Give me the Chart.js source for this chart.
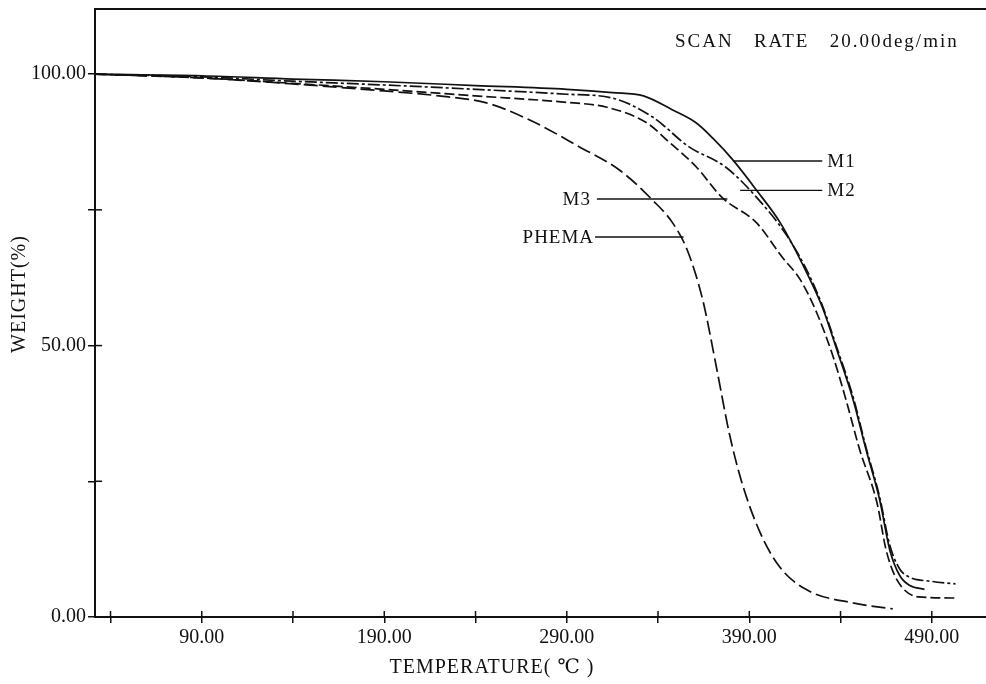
<!DOCTYPE html>
<html>
<head>
<meta charset="utf-8">
<title>TGA curves</title>
<script src="https://cdn.jsdelivr.net/npm/chart.js@4.4.1/dist/chart.umd.min.js"></script>
<style>
  body { margin: 0; background: #fff; }
  #wrap { width: 986px; height: 684px; position: relative; }
</style>
</head>
<body>
<div id="wrap"><canvas id="graph"></canvas></div>
<script>
// temperature (C) / weight (%)
const m1Temp = [31.5, 90, 140, 190, 240, 290, 315, 332, 348, 361, 370, 381, 394, 407, 421.5, 430, 438, 447, 454, 461.5, 467, 472.5, 478, 486];
const m1Weight = [100, 99.7, 99.1, 98.6, 97.9, 97.2, 96.6, 96.0, 93.4, 91.0, 88.2, 84.2, 78.6, 72.6, 63.4, 57.1, 49.2, 39.9, 30.8, 21.5, 12.3, 7.6, 5.8, 5.1];

const m2Temp = [31.5, 90, 140, 190, 240, 290, 315, 337, 357, 377, 394, 410.5, 421.5, 430, 438, 447, 454, 461.5, 467, 472.5, 478, 489, 503];
const m2Weight = [100, 99.5, 98.7, 98.0, 97.2, 96.3, 95.6, 92.1, 86.6, 82.9, 77.3, 70.3, 63.9, 57.4, 49.6, 40.4, 31.2, 22.0, 13.2, 8.8, 7.3, 6.6, 6.1];

const m3Temp = [31.5, 90, 140, 190, 240, 290, 312, 334, 345, 361, 375, 394, 408, 418, 427, 436, 443, 450.5, 460, 465, 471, 483, 503];
const m3Weight = [100, 99.3, 98.3, 97.2, 96.0, 94.8, 93.9, 91.0, 87.8, 82.9, 77.3, 72.6, 66.3, 62.1, 56.0, 47.9, 40.0, 30.8, 21.0, 12.3, 6.8, 3.7, 3.5];

const phemaTemp = [31.5, 90, 140, 190, 220, 246, 270, 297, 319, 337, 348, 356, 364.5, 372, 379, 386, 396, 406.7, 421.5, 446.7, 468.6];
const phemaWeight = [100, 99.3, 98.2, 96.9, 96.0, 94.7, 91.5, 86.6, 82.3, 76.8, 72.6, 67.6, 58.4, 46.0, 33.9, 24.7, 15.5, 9.2, 5.0, 2.6, 1.5];

// axis ticks
const xTicks = [40, 90, 140, 190, 240, 290, 340, 390, 440, 490];
const xLabelled = [90, 190, 290, 390, 490];
const yTicks = [0, 25, 50, 75, 100];
const yLabelled = [0, 50, 100];

// curve labels: name, leader line from/to temperature, weight level
const tagNames = ['M1', 'M2', 'M3', 'PHEMA'];
const tagFrom = [381, 385, 306.5, 305.5];
const tagTo = [430, 430, 378, 354];
const tagWeight = [84.0, 78.6, 77.0, 70.0];
const tagSide = ['right', 'right', 'left', 'left'];

const ink = '#111';
const serif = '"Liberation Serif", "DejaVu Serif", serif';

function toPoints(xs, ys) {
    return xs.map((x, i) => ({ x: x, y: ys[i] }));
}

function series(label, xs, ys, dash) {
    return {
        label: label,
        data: toPoints(xs, ys),
        borderColor: ink,
        borderWidth: 1.7,
        borderDash: dash,
        pointRadius: 0,
        fill: false,
        cubicInterpolationMode: 'monotone'
    };
}

// draws the frame, inner tick stubs, curve labels and free texts
const decorations = {
    id: 'decorations',
    afterDraw(chart) {
        const ctx = chart.ctx;
        const area = chart.chartArea;
        const xs = chart.scales.x;
        const ys = chart.scales.y;
        ctx.save();
        ctx.strokeStyle = ink;
        ctx.fillStyle = ink;

        // top frame line
        ctx.lineWidth = 2;
        ctx.beginPath();
        ctx.moveTo(area.left, area.top);
        ctx.lineTo(area.right, area.top);
        ctx.stroke();

        // tick stubs inside the plot
        ctx.lineWidth = 1.5;
        xTicks.forEach(t => {
            const px = xs.getPixelForValue(t);
            ctx.beginPath();
            ctx.moveTo(px, area.bottom);
            ctx.lineTo(px, area.bottom - 6);
            ctx.stroke();
        });
        yTicks.forEach(t => {
            if (t === 0 || t === 100) return;
            const py = ys.getPixelForValue(t);
            ctx.beginPath();
            ctx.moveTo(area.left, py);
            ctx.lineTo(area.left + 7, py);
            ctx.stroke();
        });

        // curve labels with leader lines
        ctx.font = '19px ' + serif;
        ctx.letterSpacing = '1px';
        ctx.textBaseline = 'middle';
        ctx.lineWidth = 1.3;
        tagNames.forEach((name, i) => {
            const py = ys.getPixelForValue(tagWeight[i]);
            const x1 = xs.getPixelForValue(tagFrom[i]);
            const x2 = xs.getPixelForValue(tagTo[i]);
            ctx.beginPath();
            ctx.moveTo(x1, py);
            ctx.lineTo(x2, py);
            ctx.stroke();
            if (tagSide[i] === 'right') {
                ctx.textAlign = 'left';
                ctx.fillText(name, x2 + 5, py + 1);
            } else {
                ctx.textAlign = 'right';
                ctx.fillText(name, x1 - (name === 'PHEMA' ? 1 : 6), py + 1);
            }
        });

        // scan rate note
        ctx.font = '19px ' + serif;
        ctx.letterSpacing = '2px';
        ctx.textAlign = 'left';
        ctx.fillText('SCAN   RATE   20.00deg/min', 675, 42);

        // axis titles
        ctx.letterSpacing = '1px';
        ctx.font = '20px ' + serif;
        ctx.textAlign = 'center';
        ctx.fillText('TEMPERATURE( \u2103 )', 492, 668);

        ctx.translate(20, 294);
        ctx.rotate(-Math.PI / 2);
        ctx.fillText('WEIGHT(%)', 0, 0);
        ctx.restore();
    }
};

const ctx = document.getElementById('graph').getContext('2d');
new Chart(ctx, {
    type: 'line',
    data: {
        datasets: [
            series('M1', m1Temp, m1Weight, []),
            series('M2', m2Temp, m2Weight, [12, 3, 3, 3]),
            series('M3', m3Temp, m3Weight, [10, 4]),
            series('PHEMA', phemaTemp, phemaWeight, [14, 5])
        ]
    },
    options: {
        responsive: true,
        maintainAspectRatio: false,
        animation: false,
        layout: { padding: { top: 9, right: 0, left: 0, bottom: 0 } },
        plugins: {
            legend: { display: false },
            tooltip: { enabled: false }
        },
        scales: {
            x: {
                type: 'linear',
                min: 31.5,
                max: 519.7,
                afterFit: s => { s.height = 67; s.paddingLeft = 0; s.paddingRight = 0; },
                afterBuildTicks: s => { s.ticks = xTicks.map(v => ({ value: v })); },
                border: { display: true, color: ink, width: 2 },
                grid: { drawOnChartArea: false, drawTicks: true, tickLength: 6, color: ink, lineWidth: 1.5 },
                ticks: {
                    color: ink,
                    padding: 3,
                    maxRotation: 0,
                    autoSkip: false,
                    font: { family: serif, size: 20 },
                    callback: v => xLabelled.includes(v) ? v.toFixed(2) : ''
                }
            },
            y: {
                type: 'linear',
                min: 0,
                max: 112,
                // the top tick is not at the edge, so drop the label padding
                afterFit: s => { s.width = 95; s.paddingTop = 0; s.paddingBottom = 0; },
                afterBuildTicks: s => { s.ticks = yTicks.map(v => ({ value: v })); },
                border: { display: true, color: ink, width: 2 },
                grid: { drawOnChartArea: false, drawTicks: true, tickLength: 7, color: ink, lineWidth: 1.5 },
                ticks: {
                    color: ink,
                    padding: 2,
                    autoSkip: false,
                    font: { family: serif, size: 20 },
                    callback: v => yLabelled.includes(v) ? v.toFixed(2) : ''
                }
            }
        }
    },
    plugins: [decorations]
});
</script>
</body>
</html>
